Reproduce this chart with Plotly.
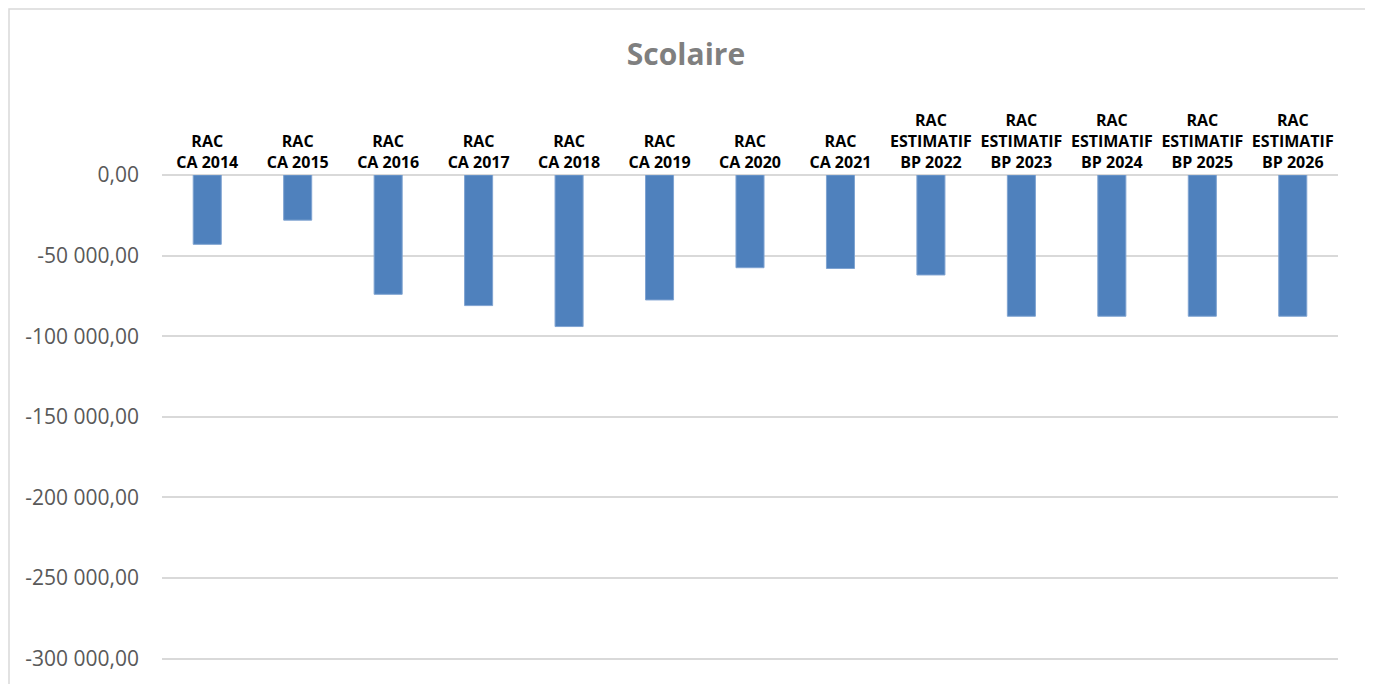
import plotly.graph_objects as go

# Catégories (libellés sur deux ou trois lignes)
categories = [
    "RAC<br>CA 2014", "RAC<br>CA 2015", "RAC<br>CA 2016", "RAC<br>CA 2017",
    "RAC<br>CA 2018", "RAC<br>CA 2019", "RAC<br>CA 2020", "RAC<br>CA 2021",
    "RAC<br>ESTIMATIF<br>BP 2022", "RAC<br>ESTIMATIF<br>BP 2023",
    "RAC<br>ESTIMATIF<br>BP 2024", "RAC<br>ESTIMATIF<br>BP 2025",
    "RAC<br>ESTIMATIF<br>BP 2026",
]
# Reste à charge scolaire
values = [-43000, -28000, -74000, -81000, -94000, -77500, -57500,
          -58000, -62000, -87600, -87600, -87600, -87600]

tick_vals = [0, -50000, -100000, -150000, -200000, -250000, -300000]
tick_text = ["0,00", "-50 000,00", "-100 000,00", "-150 000,00",
             "-200 000,00", "-250 000,00", "-300 000,00"]

# la page ajoute 8 px de marge autour de la figure
fig = go.Figure()
fig.add_trace(go.Bar(
    x=categories, y=values,
    marker=dict(color="#4F81BD", line=dict(color="#7FA3D1", width=1)),
))

fig.update_layout(
    width=1373, height=684,
    margin=dict(l=154, r=43, t=167, b=8),
    paper_bgcolor="white", plot_bgcolor="white",
    showlegend=False,
    bargap=0.69,
    title=dict(text="<b>Scolaire</b>", x=(686 - 8) / 1373, xanchor="center",
               y=1 - 46 / 684, yanchor="middle",
               font=dict(family="Open Sans", size=30, color="#7F7F7F")),
    font=dict(family="Open Sans"),
)
fig.update_xaxes(
    side="top", showgrid=False, showline=False, ticks="",
    tickfont=dict(family="Open Sans", size=16, color="black", weight="bold"),
    ticklabelstandoff=3,
)
fig.update_yaxes(
    range=[-315700, 0], tickvals=tick_vals, ticktext=tick_text,
    showgrid=True, gridcolor="#D9D9D9", gridwidth=1.5,
    zeroline=True, zerolinecolor="#D9D9D9", zerolinewidth=1.5,
    showline=False, ticks="", ticklabelstandoff=22,
    tickfont=dict(family="Open Sans", size=21, color="#595959"),
)

# cadre du graphique
fig.add_shape(type="rect", xref="paper", yref="paper",
              x0=(1 - 154) / 1176, x1=(1359 - 154) / 1176,
              y0=-0.2, y1=(676 - 1) / 509,
              line=dict(color="#D9D9D9", width=1.5), layer="below")

fig.write_html("out.html")
